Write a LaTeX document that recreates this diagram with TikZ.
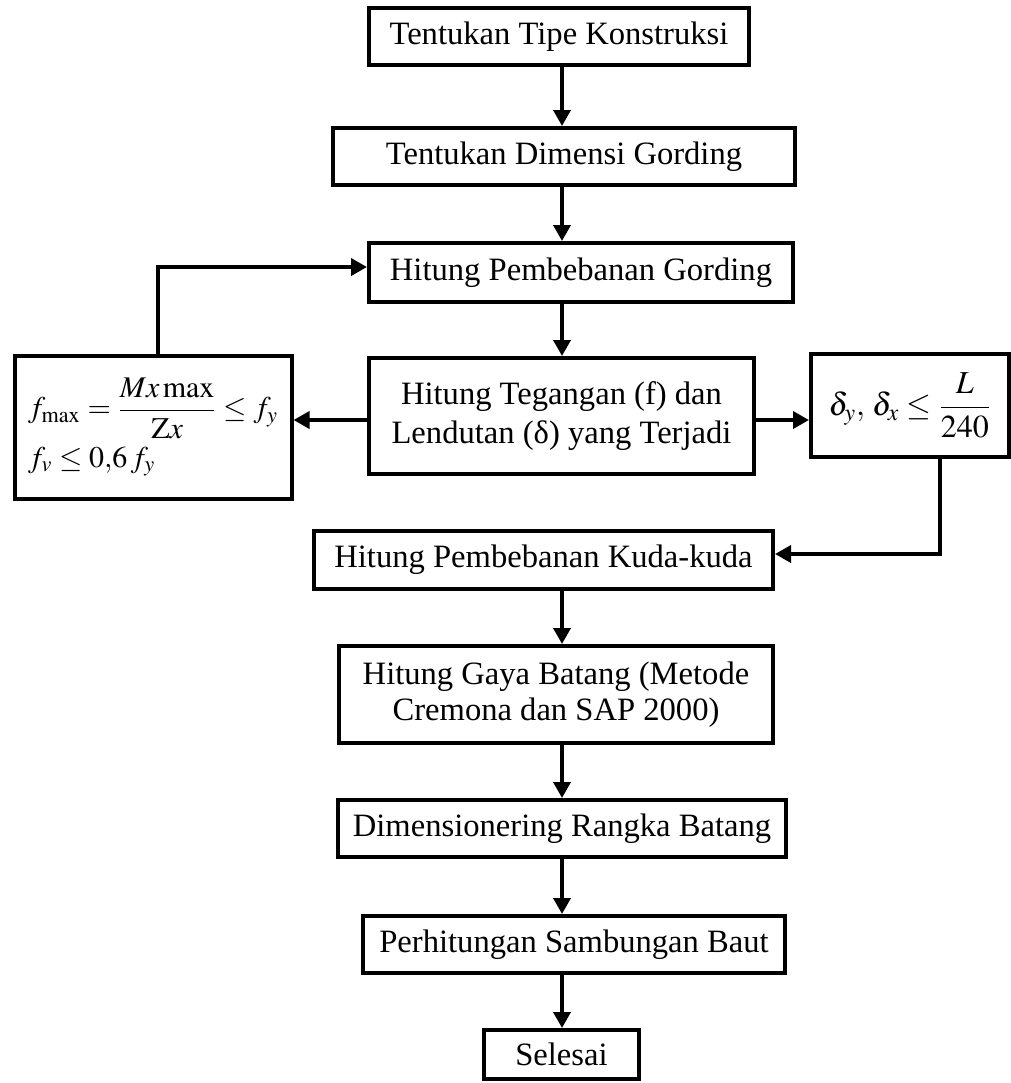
\documentclass[tikz,border=0pt]{standalone}
\usepackage{mathptmx}
\usepackage{fontspec}
\setmainfont{Liberation Serif}
\usetikzlibrary{arrows.meta}
\begin{document}
\begin{tikzpicture}[x=0.5pt,y=-0.5pt,
  box/.style={draw, line width=2pt, inner sep=0pt, align=center, font=\fontsize{16.3}{19.5}\selectfont},
  arr/.style={line width=1.8pt, -{Triangle[length=8pt,width=8.5pt]}}]
\useasboundingbox (0,0) rectangle (1011,1083);
% boxes
\node[box, minimum width=190pt, minimum height=28.5pt] (b1) at (559,36.5) {Tentukan Tipe Konstruksi};
\node[box, minimum width=231pt, minimum height=28.5pt] (b2) at (564,156.5) {Tentukan Dimensi Gording};
\node[box, minimum width=212pt, minimum height=29.5pt] (b3) at (581,272.5) {Hitung Pembebanan Gording};
\node[box, minimum width=192.5pt, minimum height=58pt] (b4) at (561.5,416) {Hitung Tegangan (f) dan\\Lendutan (δ) yang Terjadi};
\node[box, align=left, font=\fontsize{15}{18}\selectfont, minimum width=138.5pt, minimum height=71.5pt] (lb) at (153,427)
  {$\displaystyle f_{\max}=\frac{Mx\max}{\mathrm{Z}x}\le f_y$\\[3pt]$f_v\le 0{,}6\,f_y$};
\node[box, font=\fontsize{16}{19}\selectfont, minimum width=99pt, minimum height=51.5pt] (rb) at (910,405.5)
  {$\displaystyle \delta_y,\,\delta_x\le\frac{L}{240}$};
\node[box, minimum width=229.5pt, minimum height=29pt] (b5) at (543.5,560) {Hitung Pembebanan Kuda-kuda};
\node[box, font=\fontsize{16.3}{18}\selectfont, minimum width=217pt, minimum height=48.5pt] (b6) at (556,694.5) {Hitung Gaya Batang (Metode\\Cremona dan SAP 2000)};
\node[box, minimum width=224pt, minimum height=28.5pt] (b7) at (562,828.5) {Dimensionering Rangka Batang};
\node[box, minimum width=211pt, minimum height=28.5pt] (b8) at (574,944.5) {Perhitungan Sambungan Baut};
\node[box, minimum width=77.5pt, minimum height=24.5pt] (b9) at (561.5,1054.5) {Selesai};
% helper coordinates
\coordinate (ax) at (562,0);
\coordinate (ay) at (0,420);
\coordinate (lx) at (158,0);
\coordinate (ly) at (0,267);
\coordinate (rx) at (940,0);
\coordinate (ry) at (0,554);
% connectors
\draw[arr] (b1.south -| ax) -- (b2.north -| ax);
\draw[arr] (b2.south -| ax) -- (b3.north -| ax);
\draw[arr] (b3.south -| ax) -- (b4.north -| ax);
\draw[arr] (b4.west |- ay) -- (lb.east |- ay);
\draw[arr] (b4.east |- ay) -- (rb.west |- ay);
\draw[arr] (lb.north -| lx) |- (b3.west |- ly);
\draw[arr] (rb.south -| rx) |- (b5.east |- ry);
\draw[arr] (b5.south -| ax) -- (b6.north -| ax);
\draw[arr] (b6.south -| ax) -- (b7.north -| ax);
\draw[arr] (b7.south -| ax) -- (b8.north -| ax);
\draw[arr] (b8.south -| ax) -- (b9.north -| ax);
\end{tikzpicture}
\end{document}
